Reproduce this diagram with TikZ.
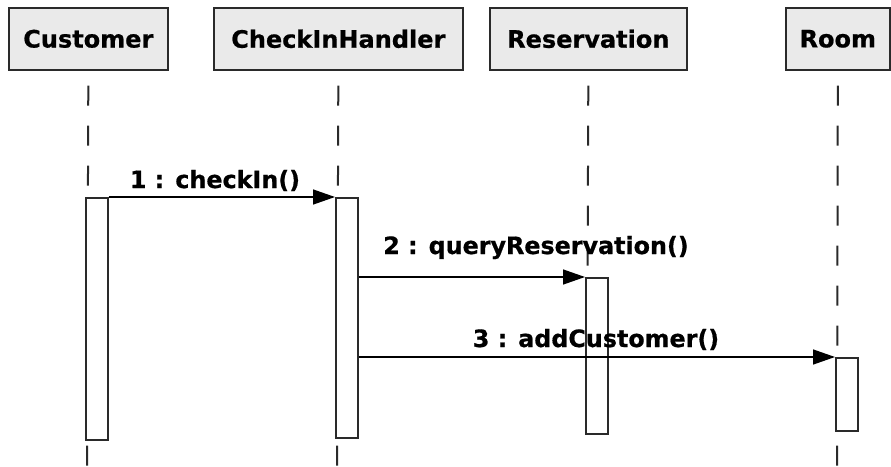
\documentclass[tikz,border=0pt]{standalone}
\usepackage{fontspec}
\setmainfont{DejaVu Sans}
\newfontfamily\heavyfont{DejaVu Sans Bold}[FakeBold=0.7]
\usetikzlibrary{arrows.meta}
\definecolor{hdrfill}{HTML}{EAEAEA}
\definecolor{edge}{HTML}{2A2A2A}
\begin{document}
\begin{tikzpicture}[x=1pt,y=-1pt,
  hdr/.style={draw=edge,line width=1.6pt,fill=hdrfill,inner sep=0pt,anchor=north west,
    font=\fontsize{24}{28}\heavyfont,text=black},
  actbox/.style={draw=edge,line width=1.6pt,fill=white,inner sep=0pt,anchor=north west,minimum width=22pt},
  life/.style={draw=edge,line width=2pt,dash pattern=on 20pt off 20pt},
  msg/.style={draw=black,line width=1.4pt,-{Triangle[length=22pt,width=15pt]}},
  lbl/.style={font=\fontsize{23.8}{28}\heavyfont,anchor=base,inner sep=0pt,text=black}]
\useasboundingbox (0,0) rectangle (891,466);
% headers
\node[hdr,minimum width=159pt,minimum height=62pt] (cust) at (8,7) {Customer};
\node[hdr,minimum width=249pt,minimum height=62pt] (chk) at (213,7) {CheckInHandler};
\node[hdr,minimum width=197pt,minimum height=62pt] (res) at (489,7) {Reservation};
\node[hdr,minimum width=104pt,minimum height=62pt] (room) at (785,7) {Room};
% lifelines
\coordinate (custE) at (87,466);
\coordinate (chkE) at (337,466);
\coordinate (resE) at (587,434);
\coordinate (roomE) at (837,466);
\draw[life] ([yshift=-15pt]cust.south) -- (custE);
\draw[life] ([yshift=-15pt]chk.south) -- (chkE);
\draw[life] ([yshift=-15pt]res.south) -- (resE);
\draw[life] ([yshift=-15pt]room.south) -- (roomE);
% activation boxes
\node[actbox,minimum height=242pt] (a1) at (85,197) {};
\node[actbox,minimum height=240pt] (a2) at (335,197) {};
\node[actbox,minimum height=156pt] (a3) at (585,277) {};
\node[actbox,minimum height=73pt] (a4) at (835,357) {};
% messages
\draw[msg] (a1.north east) -- (a2.north west);
\draw[msg] (a2.east |- a3.north west) -- (a3.north west);
\draw[msg] (a2.east |- a4.north west) -- (a4.north west);
% labels
\node[lbl] (l1) at (215,188) {1 : checkIn()};
\node[lbl] (l2) at (536,254) {2 : queryReservation()};
\node[lbl] (l3) at (596,347) {3 : addCustomer()};
\end{tikzpicture}
\end{document}
